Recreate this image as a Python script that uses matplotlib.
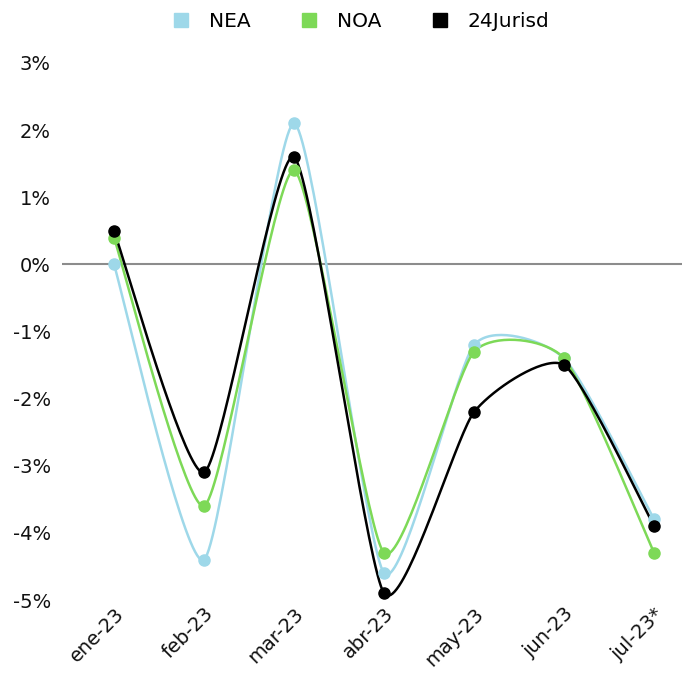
import numpy as np
import matplotlib
matplotlib.use("Agg")
import matplotlib.pyplot as plt
from matplotlib.lines import Line2D

categories = ["ene-23", "feb-23", "mar-23", "abr-23", "may-23", "jun-23", "jul-23*"]
nea = [0.0, -4.4, 2.1, -4.6, -1.2, -1.4, -3.8]
noa = [0.4, -3.6, 1.4, -4.3, -1.3, -1.4, -4.3]
jur = [0.5, -3.1, 1.6, -4.9, -2.2, -1.5, -3.9]
series_names = ["NEA", "NOA", "24Jurisd"]
colors = ["#9ED8E9", "#7DD957", "#000000"]

plt.rcParams['font.family'] = ['DejaVu Sans']


def smooth(xs, ys, k=0.1, n=40):
    xs = np.asarray(xs, float); ys = np.asarray(ys, float)
    px = np.concatenate([[xs[0]], xs, [xs[-1]]])
    py = np.concatenate([[ys[0]], ys, [ys[-1]]])
    outx, outy = [], []
    t = np.linspace(0, 1, n)
    for i in range(1, len(px) - 2):
        p0x, p1x, p2x, p3x = px[i-1], px[i], px[i+1], px[i+2]
        p0y, p1y, p2y, p3y = py[i-1], py[i], py[i+1], py[i+2]
        c1x = p1x + (p2x - p0x) * k; c1y = p1y + (p2y - p0y) * k
        c2x = p2x - (p3x - p1x) * k; c2y = p2y - (p3y - p1y) * k
        bx = (1-t)**3*p1x + 3*(1-t)**2*t*c1x + 3*(1-t)*t**2*c2x + t**3*p2x
        by = (1-t)**3*p1y + 3*(1-t)**2*t*c1y + 3*(1-t)*t**2*c2y + t**3*p2y
        outx.extend(bx); outy.extend(by)
    return np.array(outx), np.array(outy)


fig = plt.figure(figsize=(6.82, 6.79), dpi=100)
ax = fig.add_axes([62/682, 79/679, 620/682, 537/679])
x = np.arange(len(categories))
ax.axhline(0, color="#8C8C8C", lw=1.5, zorder=1)
for vals, c in zip([nea, noa, jur], colors):
    sx, sy = smooth(x, vals)
    ax.plot(sx, sy, color=c, lw=1.8, zorder=2, clip_on=False)
    ax.plot(x, vals, 'o', color=c, ms=8, zorder=3, clip_on=False)

ax.set_xlim(-0.578, 6.31)
ax.set_ylim(-5, 3)
ax.set_yticks(np.arange(-5, 4, 1))
ax.set_yticklabels([f"{v}%" for v in range(-5, 4)], fontsize=14, color="#111111")
ax.set_xticks(x)
ax.set_xticklabels(categories, rotation=45, ha='right', rotation_mode='anchor',
                   fontsize=14, color="#111111")
ax.tick_params(axis='both', length=0)
ax.tick_params(axis='y', pad=8)
ax.tick_params(axis='x', pad=3)
for s in ax.spines.values():
    s.set_visible(False)

handles = [Line2D([], [], marker='s', color=c, lw=0, ms=10) for c in colors]
fig.legend(handles, series_names, loc='center', bbox_to_anchor=(0.528, 0.968),
           ncol=3, frameon=False, fontsize=14.5, handletextpad=0.9, columnspacing=2.4,
           handlelength=1.0)

fig.savefig("out.png", dpi=100)
